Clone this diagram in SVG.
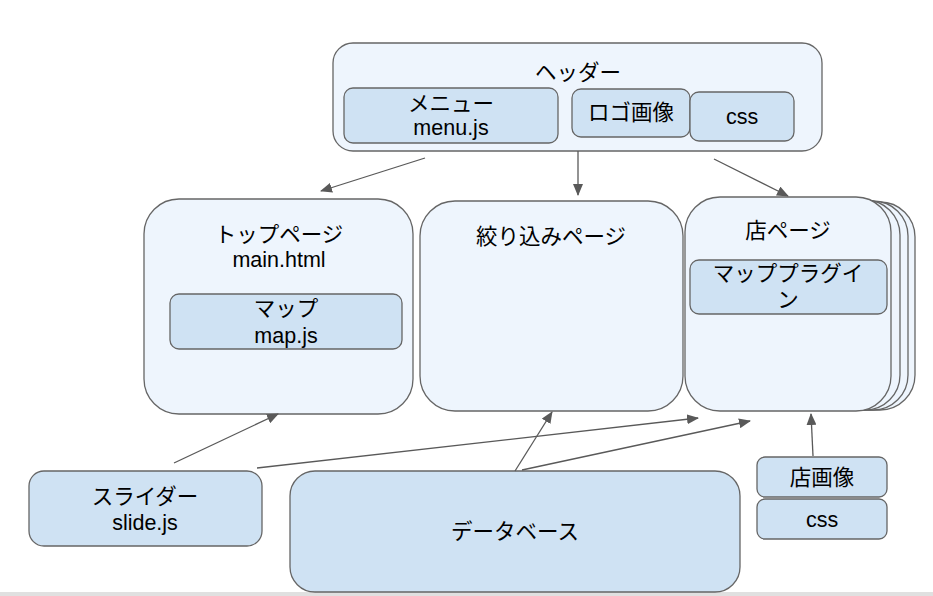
<svg xmlns="http://www.w3.org/2000/svg" width="933" height="596" viewBox="0 0 933 596">
<defs>
<marker id="ah" viewBox="0 0 12 10" refX="11" refY="5" markerWidth="12" markerHeight="10" markerUnits="userSpaceOnUse" orient="auto">
<path d="M0,0 L12,5 L0,10 z" fill="#595959"/>
</marker>
<style>
.outer{fill:#eef5fd;stroke:#666;stroke-width:1.3}
.inner{fill:#cfe2f3;stroke:#666;stroke-width:1.3}
text{font-family:"Liberation Sans","Noto Sans CJK JP",sans-serif;font-size:21.5px;fill:#000;text-anchor:middle}
.con line{stroke:#595959;stroke-width:1.3;marker-end:url(#ah)}
</style>
</defs>
<rect width="933" height="596" fill="#fff"/>
<rect x="0" y="592" width="933" height="4" fill="#e0e0e0"/>

<g id="header">
<rect class="outer" x="333" y="43" width="489" height="108" rx="20"/>
<text x="578" y="80">ヘッダー</text>
</g>
<g id="menu">
<rect class="inner" x="344" y="88" width="214" height="55" rx="9"/>
<text x="451" y="111">メニュー</text>
<text x="451" y="135">menu.js</text>
</g>
<g id="logo">
<rect class="inner" x="572" y="89" width="118" height="48" rx="9"/>
<text x="631" y="120">ロゴ画像</text>
</g>
<g id="css-header">
<rect class="inner" x="690" y="92" width="104" height="49" rx="9"/>
<text x="742" y="124">css</text>
</g>

<g id="top-page">
<rect class="outer" x="144" y="199" width="269" height="215" rx="35"/>
<text x="279" y="242">トップページ</text>
<text x="279" y="267">main.html</text>
</g>
<g id="map">
<rect class="inner" x="170" y="294" width="232" height="55" rx="9"/>
<text x="286" y="316">マップ</text>
<text x="286" y="343">map.js</text>
</g>

<g id="filter-page">
<rect class="outer" x="420" y="201" width="263" height="210" rx="35"/>
<text x="551" y="244">絞り込みページ</text>
</g>

<g id="shop-page">
<rect class="outer" x="709" y="202" width="206" height="208" rx="35"/>
<rect class="outer" x="702" y="201" width="206" height="209" rx="35"/>
<rect class="outer" x="694" y="200" width="206" height="210" rx="35"/>
<rect class="outer" x="685" y="197" width="206" height="214" rx="35"/>
<text x="788" y="238">店ページ</text>
</g>
<g id="map-plugin">
<rect class="inner" x="690" y="260" width="197" height="54" rx="9"/>
<text x="788" y="281">マッププラグイ</text>
<text x="788" y="307">ン</text>
</g>

<g id="slider">
<rect class="inner" x="29" y="471" width="233" height="75" rx="15"/>
<text x="145" y="504">スライダー</text>
<text x="145" y="530">slide.js</text>
</g>
<g id="database">
<rect class="inner" x="290" y="471" width="450" height="121" rx="25"/>
<text x="515" y="539">データベース</text>
</g>
<g id="shop-image">
<rect class="inner" x="757" y="457" width="130" height="40" rx="8"/>
<text x="822" y="485">店画像</text>
</g>
<g id="css-shop">
<rect class="inner" x="757" y="499" width="130" height="40" rx="8"/>
<text x="822" y="527">css</text>
</g>

<g class="con" id="connectors">
<line x1="425" y1="158" x2="321" y2="191"/>
<line x1="578" y1="151" x2="578" y2="195"/>
<line x1="714" y1="159" x2="788" y2="196"/>
<line x1="174" y1="463" x2="278" y2="414"/>
<line x1="257" y1="468" x2="698" y2="418"/>
<line x1="515" y1="471" x2="552" y2="412"/>
<line x1="522" y1="470" x2="750" y2="421"/>
<line x1="813" y1="456" x2="811" y2="414"/>
</g>
</svg>
